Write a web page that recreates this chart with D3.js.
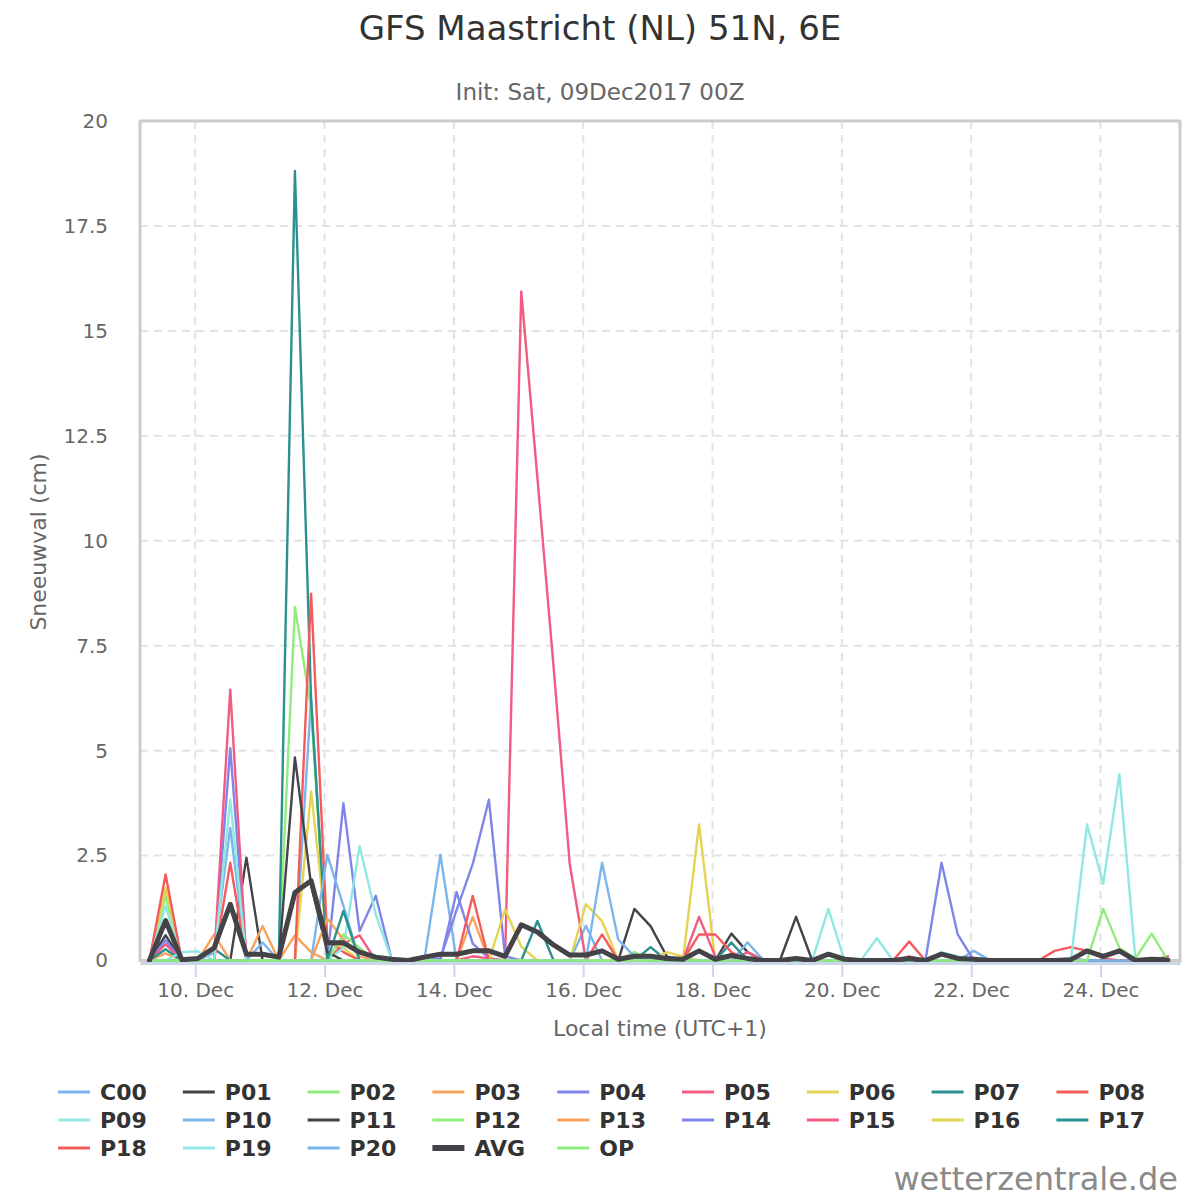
<!DOCTYPE html>
<html>
<head>
<meta charset="utf-8">
<script src="https://cdn.jsdelivr.net/npm/d3@7"></script>
<style>
  body { margin: 0; background: #fff; }
  svg { display: block; font-family: "DejaVu Sans", sans-serif; }
</style>
</head>
<body>
<svg id="chart"></svg>
<script>
// snowfall (cm) per 6h step, first step = 09 Dec 06Z, last = 25 Dec 00Z
const C00 = [0,0.6,0,0,0,0,0,0, 0,0,6.25,0,0,0,0,0, 0,0,2.52,0,0,0,0,0, 0,0,0,0.83,0,0,0,0, 0,0,0,0,0,0,0,0, 0,0,0,0,0,0,0,0, 0,0,0,0.23,0,0,0,0, 0,0,0,0,0,0,0,0];
const P01 = [0,0.6,0,0,0,0,2.45,0, 0,0,0,0,0,0,0,0, 0,0,0,0,0,0,0,0, 0,0,0,0,0,0,0,0, 0,0,0,0,0.64,0.2,0,0, 0,0,0,0,0,0,0,0, 0,0,0,0,0,0,0,0, 0,0,0,0,0,0,0,0];
const P02 = [0,1.54,0,0,0,0,0,0, 0,8.42,6.0,0,0,0,0,0, 0,0,0,0,0,0,0,0, 0,0,0,0,0,0,0,0, 0,0,0,0,0,0,0,0, 0,0,0,0,0,0,0,0, 0,0,0,0,0,0,0,0, 0,0,0,0,0,0,0,0];
const P03 = [0,0.17,0,0,0.62,0,0,0, 0,0.6,0.2,0,0,0,0,0, 0,0,0,0,1.04,0,0,0, 0,0,0,0,0,0,0,0, 0,0,0,0,0,0,0,0, 0,0,0,0,0,0,0,0, 0,0,0,0,0,0,0,0, 0,0,0,0,0,0,0,0];
const P04 = [0,0.48,0,0,0,0,0,0, 0,0,0,0,3.75,0.7,1.54,0, 0,0,0,1.63,0.4,0.05,0,0, 0,0,0,0,0,0,0,0, 0,0,0,0,0,0,0,0, 0,0,0,0,0,0,0,0, 0,0,0,0,0,0,0,0, 0,0.05,0,0,0,0,0,0];
const P05 = [0,0.39,0,0,0,0,0,0, 0,0,0,0,0.4,0.6,0,0, 0,0,0,0,0,0,0,15.94, 11.5,7.0,2.3,0,0,0,0,0, 0,0,0,0,0,0.2,0,0, 0,0,0,0,0,0,0,0, 0,0,0,0,0,0,0,0, 0,0,0,0,0,0,0,0];
const P06 = [0,1.73,0,0,0,0,0,0, 0,0,4.03,0.5,0.3,0,0,0, 0,0,0,0,0,0,0,0, 0,0,0,1.34,0.94,0,0,0, 0,0,3.24,0,0,0,0,0, 0,0,0,0,0,0,0,0, 0,0,0,0,0,0,0,0, 0,0,0,0,0,0,0,0];
const P07 = [0,0.27,0,0,0.28,0,0,0, 0,18.81,6.2,0,0,0,0,0, 0,0,0,0,0,0,0,0, 0,0,0,0,0,0,0,0.32, 0,0,0,0,0,0,0,0, 0,0,0,0,0,0,0,0, 0,0,0,0,0,0,0,0, 0,0,0,0,0,0,0,0];
const P08 = [0,2.05,0,0,0,0,0,0, 0,0,8.74,0.5,0.2,0,0,0, 0,0,0,0,0,0,0,0, 0,0,0,0,0.62,0,0,0, 0,0,0,0,0,0,0,0, 0,0,0,0,0,0,0,0.45, 0,0,0,0,0,0,0,0, 0,0,0,0,0,0,0,0.1];
const P09 = [0,1.3,0,0,0,0,0,0, 0,0,0,0,0.3,2.73,1.1,0, 0,0,0,0,0,0,0,0, 0,0,0,0,0,0,0,0, 0,0,0,0,0,0,0,0, 0,0,1.23,0,0,0,0,0, 0,0.2,0.1,0,0,0,0,0, 0,0,0,0,0,0,0,0];
const P10 = [0,0,0,0,0.18,3.16,0,0, 0,0,0,2.52,1.3,0,0,0, 0,0,0,0,0,0,0,0, 0,0,0,0,0,0,0,0, 0,0,0,0,0,0.43,0,0, 0,0,0,0,0,0,0,0, 0,0,0,0,0,0,0,0, 0,0,0,0,0,0,0,0];
const P11 = [0,0,0,0,0,0,0,0, 0,4.84,1.8,0.2,0,0,0,0, 0,0,0,0,0,0,0,0, 0,0,0,0,0,0,1.23,0.82, 0.1,0,0,0,0,0,0,0, 1.04,0,0,0,0,0,0,0, 0,0,0,0,0,0,0,0, 0,0,0,0,0,0,0,0];
const P12 = [0,0,0,0,0,0,0,0, 0,0,0,0,0.62,0.3,0,0, 0,0,0,0,0,0,0,0, 0,0,0,0,0,0,0.2,0, 0,0,0,0,0,0,0,0, 0,0,0,0,0,0,0,0, 0,0,0,0,0,0,0,0, 0,0,0,0,0,0,0,0];
const P13 = [0,0,0,0,0,0,0,0.82, 0,0,0,1.0,0.5,0.1,0,0, 0,0,0,0,0,0,0,0, 0,0,0,0,0,0,0,0, 0,0,0,0,0,0,0,0, 0,0,0,0,0,0,0,0, 0,0,0,0,0,0,0,0, 0,0,0,0,0,0,0,0];
const P14 = [0,0,0,0,0,5.06,0,0, 0,0,0,0,0,0,0,0, 0,0,0.05,1.2,2.3,3.83,0.1,0, 0,0,0,0,0,0,0,0, 0,0,0,0,0,0,0,0, 0,0,0,0,0,0,0,0, 0,2.33,0.62,0,0,0,0,0, 0,0,0,0,0,0,0,0];
const P15 = [0,0,0,0,0,6.45,0,0, 0,0,0,0,0,0,0,0, 0,0,0,0,0.1,0.05,0,0, 0,0,0,0,0,0,0,0, 0,0,1.04,0.1,0,0,0,0, 0,0,0,0,0,0,0,0.1, 0,0,0,0,0,0,0,0, 0,0,0,0,0,0,0,0];
const P16 = [0,0,0,0,0,0,0,0, 0,0,0,0,0,0,0,0, 0,0,0,0,0,0,1.22,0.33, 0,0,0,0,0,0,0,0, 0.2,0.1,0,0,0,0,0,0, 0,0,0,0,0,0,0,0, 0,0,0,0,0,0,0,0, 0,0,0,0,0,0,0,0];
const P17 = [0,0,0,0,0,0,0,0, 0,0,0,0,1.18,0,0,0, 0,0,0,0,0,0,0,0, 0.94,0,0,0,0,0,0,0, 0,0,0,0,0.43,0,0,0, 0,0,0,0,0,0,0,0, 0,0,0,0,0,0,0,0, 0,0,0,0,0,0,0,0];
const P18 = [0,0,0,0,0,2.33,0,0, 0,0,0,0,0,0,0,0, 0,0,0,0,1.54,0,0,0, 0,0,0,0,0,0,0,0, 0,0,0.62,0.62,0.2,0,0,0, 0,0,0,0,0,0,0,0, 0,0,0,0,0,0,0,0, 0.23,0.32,0.23,0.05,0,0,0,0];
const P19 = [0,0,0.2,0.22,0,3.83,0,0, 0,0,0,0,0,0,0,0, 0,0,0,0,0,0,0,0, 0,0,0,0,0,0,0,0, 0,0,0,0,0,0,0,0, 0,0,0,0,0,0.53,0,0, 0,0,0,0,0,0,0,0, 0,0,3.24,1.83,4.44,0,0,0];
const P20 = [0,0,0,0,0,0,0,0.43, 0,0,0,0,0,0,0,0, 0,0,0,0,0,0,0,0, 0,0,0,0,2.33,0.5,0.1,0, 0,0,0,0,0,0,0,0, 0,0,0,0,0,0,0,0, 0,0,0,0,0,0,0,0, 0,0,0,0,0,0,0,0];
const AVG = [0,0.95,0.02,0.05,0.3,1.34,0.15,0.15, 0.08,1.62,1.9,0.42,0.42,0.2,0.08,0.03, 0,0.08,0.15,0.15,0.23,0.23,0.1,0.85, 0.68,0.37,0.13,0.13,0.23,0.03,0.1,0.1, 0.05,0.03,0.23,0.03,0.12,0.05,0,0, 0.05,0,0.15,0.03,0,0,0,0.05, 0,0.15,0.05,0.03,0,0,0,0, 0,0.02,0.23,0.1,0.23,0,0.03,0.01];
const OP = [0,0,0,0,0,0,0,0, 0,0,0,0,0,0,0,0, 0,0,0,0,0,0,0,0, 0,0,0,0,0,0,0,0, 0,0,0,0,0,0,0,0, 0,0,0,0,0,0,0,0, 0,0,0,0,0,0,0,0, 0,0,0,1.23,0.3,0.05,0.64,0];

const seriesNames = ['C00','P01','P02','P03','P04','P05','P06','P07','P08','P09','P10',
    'P11','P12','P13','P14','P15','P16','P17','P18','P19','P20','AVG','OP'];
const seriesValues = [C00,P01,P02,P03,P04,P05,P06,P07,P08,P09,P10,
    P11,P12,P13,P14,P15,P16,P17,P18,P19,P20,AVG,OP];

// local time (UTC+1) of the first step: 09 Dec 2017 06Z = 07:00 local
const firstStep = Date.UTC(2017, 11, 9, 7);
const stepHours = 6;
const times = C00.map((v, i) => new Date(firstStep + i * stepHours * 3600e3));

const xTicks = [10, 12, 14, 16, 18, 20, 22, 24];
const xTickLabels = ['10. Dec','12. Dec','14. Dec','16. Dec','18. Dec','20. Dec','22. Dec','24. Dec'];
const yTicks = [0, 2.5, 5, 7.5, 10, 12.5, 15, 17.5, 20];
const yTickLabels = ['0','2.5','5','7.5','10','12.5','15','17.5','20'];

const palette = ['#7cb5ec','#434348','#90ed7d','#f7a35c','#8085e9','#f15c80','#e4d354','#2b908f','#f45b5b','#91e8e1'];

const width = 1200;
const height = 1200;
const plot = { left: 140, right: 1180, top: 121, bottom: 960.5 };

const svg = d3
    .select('#chart')
    .attr('width', width)
    .attr('height', height);

const x = d3
    .scaleUtc()
    .domain([Date.UTC(2017, 11, 9, 3, 30), Date.UTC(2017, 11, 25, 5, 30)])
    .range([plot.left, plot.right]);

const y = d3
    .scaleLinear()
    .domain([0, 20])
    .range([plot.bottom, plot.top]);

// titles
svg.append('text')
    .attr('x', 600)
    .attr('y', 40)
    .attr('text-anchor', 'middle')
    .style('font-size', '34px')
    .style('fill', '#333333')
    .text('GFS Maastricht (NL) 51N, 6E');

svg.append('text')
    .attr('x', 600)
    .attr('y', 100)
    .attr('text-anchor', 'middle')
    .style('font-size', '23px')
    .style('fill', '#666666')
    .text('Init: Sat, 09Dec2017 00Z');

// grid
const grid = svg.append('g');
grid.selectAll('line.hgrid')
    .data(yTicks.slice(1, -1))
    .enter()
    .append('line')
    .attr('class', 'hgrid')
    .attr('x1', plot.left)
    .attr('x2', plot.right)
    .attr('y1', (d) => y(d))
    .attr('y2', (d) => y(d));
grid.selectAll('line.vgrid')
    .data(xTicks)
    .enter()
    .append('line')
    .attr('class', 'vgrid')
    .attr('x1', (d) => x(Date.UTC(2017, 11, d)))
    .attr('x2', (d) => x(Date.UTC(2017, 11, d)))
    .attr('y1', plot.top)
    .attr('y2', plot.bottom);
grid.selectAll('line')
    .style('stroke', '#e3e3e3')
    .style('stroke-width', '2px')
    .style('stroke-dasharray', '8,6');

// plot border
svg.append('rect')
    .attr('x', plot.left)
    .attr('y', plot.top)
    .attr('width', plot.right - plot.left)
    .attr('height', plot.bottom - plot.top)
    .style('fill', 'none')
    .style('stroke', '#cccccc')
    .style('stroke-width', '3px');

// y axis
const yAxis = svg.append('g')
    .attr('transform', `translate(${plot.left - 18},0)`)
    .call(d3.axisLeft(y)
        .tickValues(yTicks)
        .tickSize(0)
        .tickPadding(14)
        .tickFormat((d, i) => yTickLabels[i]));
yAxis.select('.domain').remove();
yAxis.selectAll('text')
    .style('font-size', '20px')
    .style('font-family', '"DejaVu Sans", sans-serif')
    .style('fill', '#666666');

svg.append('text')
    .attr('transform', 'translate(46,542) rotate(-90)')
    .attr('text-anchor', 'middle')
    .style('font-size', '22px')
    .style('fill', '#666666')
    .text('Sneeuwval (cm)');

// series
svg.append('clipPath')
    .attr('id', 'clip')
    .append('rect')
    .attr('x', plot.left)
    .attr('y', plot.top - 5)
    .attr('width', plot.right - plot.left)
    .attr('height', plot.bottom - plot.top + 10);

const line = d3
    .line()
    .x((d, i) => x(times[i]))
    .y((d) => y(d));

const series = seriesNames.map((name, k) => ({
    name: name,
    values: seriesValues[k],
    color: palette[k % palette.length],
    width: name === 'AVG' ? 5 : 2.4,
}));
// average drawn above all members
const drawOrder = series.filter((s) => s.name !== 'AVG').concat(series.filter((s) => s.name === 'AVG'));

svg.append('g')
    .attr('clip-path', 'url(#clip)')
    .selectAll('path')
    .data(drawOrder)
    .enter()
    .append('path')
    .attr('d', (d) => line(d.values))
    .style('fill', 'none')
    .style('stroke', (d) => d.color)
    .style('stroke-width', (d) => d.width + 'px')
    .style('stroke-linejoin', 'round')
    .style('stroke-linecap', 'round');

// x axis
const xAxis = svg.append('g')
    .attr('transform', `translate(0,${plot.bottom + 2.5})`)
    .call(d3.axisBottom(x)
        .tickValues(xTicks.map((d) => new Date(Date.UTC(2017, 11, d))))
        .tickSizeInner(14)
        .tickSizeOuter(0)
        .tickPadding(6)
        .tickFormat((d, i) => xTickLabels[i]));
xAxis.select('.domain')
    .style('stroke', '#ccd6eb')
    .style('stroke-width', '3px');
xAxis.selectAll('.tick line')
    .style('stroke', '#ccd6eb')
    .style('stroke-width', '2px');
xAxis.selectAll('text')
    .style('font-size', '20px')
    .style('font-family', '"DejaVu Sans", sans-serif')
    .style('fill', '#666666');

svg.append('text')
    .attr('x', (plot.left + plot.right) / 2)
    .attr('y', 1036)
    .attr('text-anchor', 'middle')
    .style('font-size', '22px')
    .style('fill', '#666666')
    .text('Local time (UTC+1)');

// legend
const legendCols = 9;
const legend = svg.append('g')
    .selectAll('g')
    .data(series)
    .enter()
    .append('g')
    .attr('transform', (d, i) => `translate(${58 + (i % legendCols) * 124.8},${1092 + Math.floor(i / legendCols) * 28})`);

legend.append('line')
    .attr('x1', 0)
    .attr('x2', 32)
    .style('stroke', (d) => d.color)
    .style('stroke-width', (d) => (d.name === 'AVG' ? 6 : 3) + 'px');

legend.append('text')
    .attr('x', 42)
    .attr('dy', '0.36em')
    .style('font-size', '22px')
    .style('font-weight', 'bold')
    .style('fill', '#333333')
    .text((d) => d.name);

svg.append('text')
    .attr('x', 1178)
    .attr('y', 1190)
    .attr('text-anchor', 'end')
    .style('font-size', '32px')
    .style('fill', '#8a8a8a')
    .text('wetterzentrale.de');
</script>
</body>
</html>
